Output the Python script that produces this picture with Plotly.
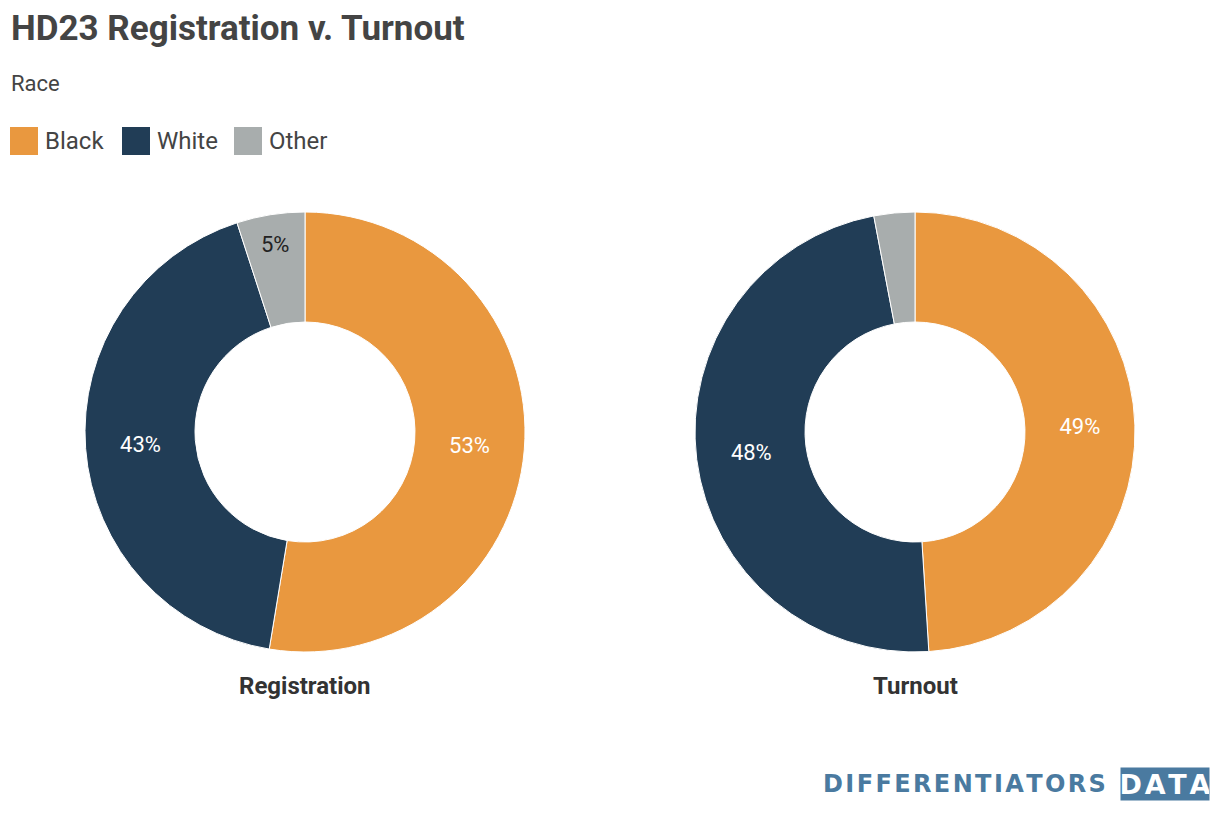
import plotly.graph_objects as go

categories = ["Black", "White", "Other"]
registration = [52.6, 42.4, 5.0]
turnout = [49.0, 48.0, 3.0]
colors = ["#E9983F", "#213D56", "#A8ADAD"]
reg_text = ["53%", "43%", "5%"]
turn_text = ["49%", "48%", ""]

W, H = 1220, 818
FONT = "Roboto, Arial, sans-serif"

def px_x(x):
    return x / W

def px_y(y):
    return 1 - y / H

fig = go.Figure()
for vals, txt, cx, name in [(registration, reg_text, 305, "Registration"),
                             (turnout, turn_text, 915, "Turnout")]:
    r = 220
    fig.add_trace(go.Pie(
        labels=categories, values=vals, name=name,
        hole=0.5, sort=False, direction="clockwise", rotation=0,
        marker=dict(colors=colors, line=dict(color="white", width=1)),
        text=txt, textinfo="text", textposition="inside",
        insidetextorientation="horizontal",
        insidetextfont=dict(family=FONT, size=22, color=["white", "white", "#222222"]),
        domain=dict(x=[px_x(cx - r), px_x(cx + r)], y=[px_y(432 + r), px_y(432 - r)]),
        hoverinfo="label+percent",
        showlegend=False,
    ))

annotations = [
    dict(text="<b>HD23 Registration v. Turnout</b>", x=px_x(9), y=px_y(29), xanchor="left", yanchor="middle",
         font=dict(family=FONT, size=35, color="#444444")),
    dict(text="Race", x=px_x(9), y=px_y(83), xanchor="left", yanchor="middle",
         font=dict(family=FONT, size=22, color="#444444")),
    dict(text="<b>Registration</b>", x=px_x(305), y=px_y(686), xanchor="center", yanchor="middle",
         font=dict(family=FONT, size=24, color="#333333")),
    dict(text="<b>Turnout</b>", x=px_x(915), y=px_y(686), xanchor="center", yanchor="middle",
         font=dict(family=FONT, size=24, color="#333333")),
    dict(text="<b>" + "\u200a".join("DIFFERENTIATORS") + "</b>", x=px_x(1108), y=px_y(784),
         xanchor="right", yanchor="middle",
         font=dict(family="DejaVu Sans", size=24, color="#4A7AA0")),
    dict(text="<b>" + "\u200a".join("DATA") + "</b>", x=px_x(1165), y=px_y(784), xanchor="center", yanchor="middle",
         font=dict(family="DejaVu Sans", size=27, color="white"),
         bgcolor="#4A7AA0", width=88, height=32, borderpad=0),
]

# legend drawn as squares + labels, built from the category list
shapes = []
legend_x = [10, 122, 234]
for cat, col, lx in zip(categories, colors, legend_x):
    shapes.append(dict(type="rect", xref="paper", yref="paper",
                       x0=px_x(lx), x1=px_x(lx + 28), y0=px_y(155), y1=px_y(127),
                       fillcolor=col, line=dict(width=0)))
    annotations.append(dict(text=cat, x=px_x(lx + 33), y=px_y(141), xanchor="left", yanchor="middle",
                            font=dict(family=FONT, size=24, color="#444444")))

for a in annotations:
    a.update(xref="paper", yref="paper", showarrow=False)

fig.update_layout(
    width=W, height=H,
    margin=dict(l=0, r=0, t=0, b=0),
    paper_bgcolor="white", plot_bgcolor="white",
    annotations=annotations, shapes=shapes,
)

fig.write_html("out.html", config={"displayModeBar": False},
               post_script="document.body.style.margin='0';")
